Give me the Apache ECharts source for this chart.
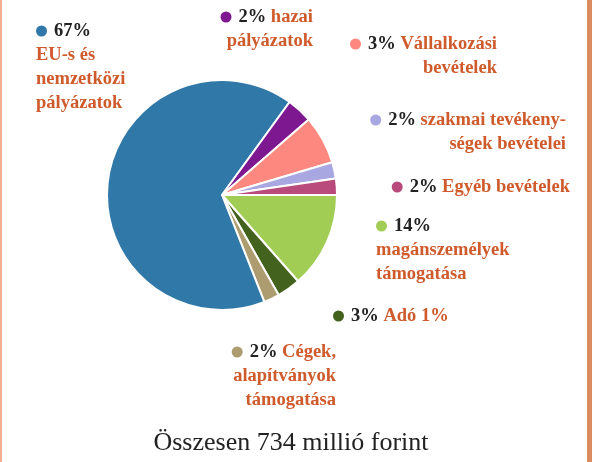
<!DOCTYPE html>
<html>
<head>
<meta charset="utf-8">
<script src="https://cdn.jsdelivr.net/npm/echarts@6/dist/echarts.min.js"></script>
<style>
  html, body { margin: 0; padding: 0; background: #fff; }
  #chart { width: 592px; height: 462px; }
</style>
</head>
<body>
<div id="chart"></div>
<script>
// szeletek az óramutató járása szerint, 3 órától indulva
const categories = [
  "magánszemélyek\ntámogatása",
  "Adó 1%",
  "Cégek,\nalapítványok\ntámogatása",
  "EU-s és\nnemzetközi\npályázatok",
  "hazai\npályázatok",
  "Vállalkozási\nbevételek",
  "szakmai tevékeny-\nségek bevételei",
  "Egyéb bevételek"
];
const values = [13.5, 3.3, 2.2, 66, 3.6, 6.8, 2.3, 2.3];
const pctLabels = ["14%", "3%", "2%", "67%", "2%", "3%", "2%", "2%"];
const colors = ["#a1cd55", "#43621d", "#ae9c71", "#2f78a8", "#7e1891", "#fd8880", "#a8a7e2", "#b84a7c"];
const title = "Összesen 734 millió forint";

// címke helyek: [x, y, igazítás, a név új sorban kezdődik-e]
const labelPos = [
  [376, 214, "left", true],
  [333, 304, "left", false],
  [336, 340, "right", false],
  [36, 19, "left", true],
  [313, 5, "right", false],
  [497, 32, "right", false],
  [566, 108, "right", false],
  [570, 175, "right", false]
];

const font = '"Liberation Serif", "DejaVu Serif", serif';

const chart = echarts.init(document.getElementById("chart"));

const data = values.map((v, i) => {
  const align = labelPos[i][2];
  const lines = categories[i].split("\n");
  let text = "{dot|}{sp|}{pct|" + pctLabels[i] + (labelPos[i][3] ? "" : " ") + "}";
  lines.forEach((l, j) => {
    if (j === 0 && !labelPos[i][3]) text += "{txt|" + l + "}";
    else text += "\n{txt|" + l + "}";
  });
  return {
    name: categories[i],
    value: v,
    itemStyle: { color: colors[i] },
    label: {
      formatter: text,
      rich: {
        dot: { width: 11, height: 11, borderRadius: 6, backgroundColor: colors[i], align: align },
        sp: { width: 7, align: align },
        pct: { color: "#222", fontFamily: font, fontWeight: "bold", fontSize: 18.5, lineHeight: 24, align: align },
        txt: { color: "#cf5a2b", fontFamily: font, fontWeight: "bold", fontSize: 18.5, lineHeight: 24, align: align }
      }
    }
  };
});

chart.setOption({
  animation: false,
  graphic: [
    { type: "rect", shape: { x: 0, y: 0, width: 2, height: 462 }, style: { fill: "#f2b08e" } },
    { type: "rect", shape: { x: 587, y: 0, width: 5, height: 462 }, style: { fill: "#d98a5e" } },
    {
      type: "text", x: 291, y: 456,
      style: { text: title, font: "26px " + font, fill: "#222", textAlign: "center", textVerticalAlign: "bottom" }
    }
  ],
  series: [
    {
      type: "pie",
      center: [222, 195],
      radius: 115,
      startAngle: 0,
      clockwise: true,
      avoidLabelOverlap: false,
      itemStyle: { borderColor: "#fff", borderWidth: 2 },
      label: { show: true, position: "outside" },
      labelLine: { show: false },
      labelLayout: function (params) {
        const p = labelPos[params.dataIndex];
        return { x: p[0], y: p[1], align: p[2], verticalAlign: "top" };
      },
      emphasis: { disabled: true },
      data: data
    }
  ]
});
</script>
</body>
</html>
